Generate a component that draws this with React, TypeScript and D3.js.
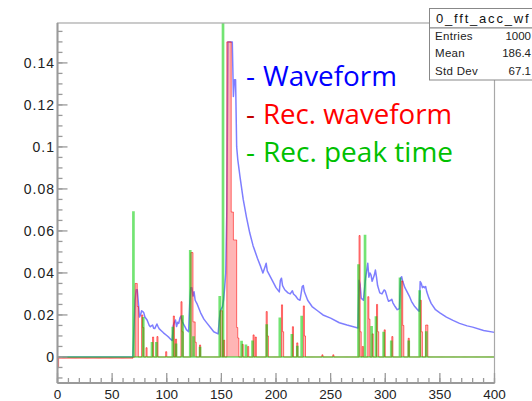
import React from 'react';
import * as d3 from 'd3';

// ---- Data ----
const xTicks = [0, 50, 100, 150, 200, 250, 300, 350, 400];
const yTicks = [0, 0.02, 0.04, 0.06, 0.08, 0.1, 0.12, 0.14];
const yTickLabels = ['0', '0.02', '0.04', '0.06', '0.08', '0.1', '0.12', '0.14'];

// Blue "Waveform" (bin position, value)
const blueX = [0, 69, 70, 71, 72, 73, 74, 75, 76, 77, 78, 79, 80, 82, 84, 85, 87, 88, 89, 91, 92, 93, 95, 97, 100, 102, 104, 105, 106, 107, 108, 109, 110, 111, 112, 113, 114, 116, 118, 120, 121, 122, 123, 124, 125, 126, 128, 131, 134, 137, 140, 143, 147, 148, 149, 151, 152, 153, 154, 155, 156, 160, 161, 162, 163, 164, 165, 167, 170, 173, 176, 179, 183, 186, 188, 190, 191, 192, 195, 198, 200, 203, 204, 205, 206, 208, 211, 213, 215, 216, 218, 220, 222, 224, 225, 226, 229, 233, 238, 243, 250, 258, 265, 270, 275, 276, 277, 278, 280, 282, 284, 285, 286, 287, 288, 290, 291, 292, 293, 295, 297, 299, 300, 302, 303, 305, 306, 307, 309, 311, 313, 314, 315, 316, 317, 318, 320, 322, 324, 327, 330, 331, 332, 333, 334, 335, 336, 337, 338, 340, 342, 346, 350, 356, 362, 368, 375, 380, 390, 400];
const blueY = [0, 0, 0.014, 0.027, 0.032, 0.032, 0.026, 0.019, 0.02, 0.022, 0.0216, 0.021, 0.019, 0.0176, 0.015, 0.0144, 0.0152, 0.0137, 0.0135, 0.0157, 0.0145, 0.0135, 0.0125, 0.0115, 0.0102, 0.0093, 0.0082, 0.0078, 0.015, 0.0165, 0.0176, 0.0145, 0.0165, 0.016, 0.0185, 0.0195, 0.017, 0.015, 0.013, 0.012, 0.025, 0.033, 0.033, 0.029, 0.031, 0.027, 0.025, 0.021, 0.018, 0.016, 0.014, 0.012, 0.011, 0.017, 0.022, 0.024, 0.027, 0.033, 0.04, 0.07, 0.15, 0.15, 0.124, 0.132, 0.132, 0.1, 0.094, 0.086, 0.075, 0.0665, 0.059, 0.053, 0.047, 0.043, 0.04, 0.043, 0.0446, 0.041, 0.038, 0.035, 0.033, 0.031, 0.0365, 0.0375, 0.034, 0.032, 0.0305, 0.03, 0.0315, 0.03, 0.029, 0.0275, 0.027, 0.0335, 0.034, 0.031, 0.027, 0.024, 0.022, 0.02, 0.0185, 0.0163, 0.0152, 0.0145, 0.0138, 0.0365, 0.0345, 0.028, 0.027, 0.0375, 0.0446, 0.038, 0.04, 0.039, 0.036, 0.039, 0.0414, 0.038, 0.034, 0.0305, 0.03, 0.0319, 0.0315, 0.028, 0.0265, 0.027, 0.0275, 0.0258, 0.024, 0.0225, 0.023, 0.0375, 0.0382, 0.036, 0.0345, 0.033, 0.031, 0.029, 0.0265, 0.024, 0.0222, 0.0218, 0.0359, 0.035, 0.033, 0.0335, 0.033, 0.0335, 0.031, 0.028, 0.0255, 0.0225, 0.021, 0.019, 0.0174, 0.016, 0.0148, 0.0142, 0.0126, 0.0117];

// Red "Rec. waveform": [first bin, last bin (exclusive), value]
const redSegments: [number, number, number][] = [
  [0, 1, -0.0052], [1, 69, -0.0006], [71, 73, 0.035], [73, 74, 0.024], [77, 78, 0.02], [78, 79, 0.014],
  [81, 82, 0.0044], [87, 88, 0.0095], [91, 92, 0.0097], [99, 100, 0.0025], [106, 107, 0.0195],
  [108, 109, 0.0085], [113, 114, 0.0263], [114, 115, 0.012], [122, 124, 0.0497], [124, 126, 0.0167],
  [126, 127, 0.007], [130, 131, 0.0057], [149, 151, 0.022], [152, 153, 0.008], [155, 159, 0.15],
  [159, 161, 0.069], [161, 164, 0.0557], [164, 165, 0.014], [165, 166, 0.009], [169, 170, 0.006],
  [174, 175, 0.005], [179, 180, 0.0105], [181, 182, 0.0095], [191, 192, 0.0216], [192, 193, 0.01],
  [205, 206, 0.0248], [206, 207, 0.012], [215, 216, 0.0144], [219, 220, 0.0067], [225, 226, 0.0243],
  [226, 227, 0.01], [242, 243, 0.001], [252, 253, 0.001], [276, 277, 0.0578], [277, 278, 0.012],
  [279, 280, 0.005], [284, 285, 0.0287], [285, 286, 0.018], [288, 289, 0.011], [292, 293, 0.025],
  [293, 294, 0.012], [299, 300, 0.0129], [306, 307, 0.0097], [315, 316, 0.0362], [316, 317, 0.015],
  [321, 322, 0.0089], [332, 333, 0.027], [333, 334, 0.012], [337, 339, 0.0152],
];

// Green "Rec. peak time": bins and values
const greenBins = [69, 78, 86, 90, 105, 108, 114, 121, 124, 130, 148, 151, 168, 172, 178, 191, 203, 214, 219, 223, 275, 281, 287, 291, 298, 305, 313, 321, 331, 337];
const greenVals = [0.069, 0.0186, 0.0067, 0.0067, 0.014, 0.006, 0.0195, 0.0505, 0.0095, 0.0045, 0.0287, 0.2, 0.0073, 0.0055, 0.0075, 0.0152, 0.0184, 0.0105, 0.005, 0.0192, 0.0438, 0.0578, 0.0144, 0.019, 0.0116, 0.0075, 0.0375, 0.0074, 0.0314, 0.0119];

const statsTitle = '0_fft_acc_wf';
const statsLabels = ['Entries', 'Mean', 'Std Dev'];
const statsValues = ['1000', '186.4', '67.1'];

const legendLabels = ['Waveform', 'Rec. waveform', 'Rec. peak time'];
const legendColors = ['#0000ff', '#ff0000', '#00c000'];
const dashColors = ['#0000ff', '#c00000', '#00c000'];

const NBINS = 400;

export default function App() {
  const W = 532, H = 401;
  const x = d3.scaleLinear().domain([0, 400]).range([57.5, 494.5]);
  const y = d3.scaleLinear().domain([-0.0124, 0.159]).range([383, 23]);
  const [x0, x1] = x.range();
  const [yb, yt] = y.range();

  // Build binned arrays
  const redVals = new Array(NBINS).fill(0);
  redSegments.forEach(([a, b, v]) => { for (let i = a; i < b; i++) redVals[i] = v; });
  const grnVals = new Array(NBINS).fill(0);
  greenBins.forEach((b, i) => { grnVals[b] = greenVals[i]; });

  const stepPts = (vals: number[]) => {
    const pts: [number, number][] = vals.map((v, i) => [i, v]);
    pts.push([NBINS, vals[NBINS - 1]]);
    return pts;
  };

  const redArea = d3.area<[number, number]>()
    .x(d => x(d[0])).y0(y(0)).y1(d => y(d[1])).curve(d3.curveStepAfter)(stepPts(redVals)) || '';
  const redLine = d3.line<[number, number]>()
    .x(d => x(d[0])).y(d => y(d[1])).curve(d3.curveStepAfter)(stepPts(redVals)) || '';
  const grnLine = d3.line<[number, number]>()
    .x(d => x(d[0])).y(d => y(d[1])).curve(d3.curveStepAfter)(stepPts(grnVals)) || '';
  const blueLine = d3.line<number>()
    .x((_, i) => x(blueX[i])).y(d => y(d))(blueY) || '';

  const yMinor = d3.range(-0.01, 0.1551, 0.005);
  const xMinor = d3.range(0, 401, 10);

  const axisFont = 'Liberation Sans, Arial, Helvetica, sans-serif';

  return (
    <svg width={W} height={H} style={{ position: 'absolute', left: 0, top: 0, background: '#fff' }}>
      <defs>
        <clipPath id="plotclip">
          <rect x={x0} y={yt} width={x1 - x0} height={yb - yt} />
        </clipPath>
      </defs>
      <rect x={0} y={0} width={W} height={H} fill="#fff" />

      {/* data */}
      <g clipPath="url(#plotclip)">
        <path d={blueLine} fill="none" stroke="rgba(40,40,255,0.6)" strokeWidth={1.5} strokeLinejoin="round" />
        <path d={redArea} fill="rgba(255,70,70,0.4)" stroke="none" />
        <path d={redLine} fill="none" stroke="rgba(255,0,0,0.55)" strokeWidth={1} />
        <path d={grnLine} fill="none" stroke="rgba(0,205,0,0.55)" strokeWidth={1.6} />
      </g>

      {/* frame */}
      <rect x={x0} y={yt} width={x1 - x0} height={yb - yt} fill="none" stroke="#a8a8a8" strokeWidth={1.2} />
      <line x1={x0} x2={x0} y1={yt} y2={yb} stroke="#9a9a9a" strokeWidth={2} />
      <line x1={x0} x2={x1} y1={yb} y2={yb} stroke="#9a9a9a" strokeWidth={2} />

      {/* y ticks */}
      {yMinor.map((v, i) => (
        <line key={'ym' + i} x1={x0} x2={x0 + 5} y1={y(v)} y2={y(v)} stroke="#9a9a9a" strokeWidth={1.3} />
      ))}
      {yTicks.map((v, i) => (
        <g key={'yt' + i}>
          <line x1={x0} x2={x0 + 10} y1={y(v)} y2={y(v)} stroke="#9a9a9a" strokeWidth={1.3} />
          <text x={55} y={y(v) + 5} textAnchor="end" fontFamily={axisFont} fontSize={14} letterSpacing={1} fill="#222">
            {yTickLabels[i]}
          </text>
        </g>
      ))}

      {/* x ticks */}
      {xMinor.map((v, i) => (
        <line key={'xm' + i} x1={x(v)} x2={x(v)} y1={yb} y2={yb - 5} stroke="#9a9a9a" strokeWidth={1.3} />
      ))}
      {xTicks.map((v, i) => (
        <g key={'xt' + i}>
          <line x1={x(v)} x2={x(v)} y1={yb} y2={yb - 10} stroke="#9a9a9a" strokeWidth={1.3} />
          <text x={x(v)} y={399} textAnchor="middle" fontFamily={axisFont} fontSize={13.5} fill="#222">
            {String(v)}
          </text>
        </g>
      ))}

      {/* stats box */}
      <rect x={429.5} y={8.5} width={110} height={19.5} fill="#fff" stroke="#888" strokeWidth={1} />
      <text x={436} y={23} fontFamily={axisFont} fontSize={13} letterSpacing={1.8} fill="#111">{statsTitle}</text>
      <rect x={429.5} y={28} width={110} height={52} fill="#fff" stroke="#888" strokeWidth={1} />
      {statsLabels.map((s, i) => (
        <text key={'sl' + i} x={435} y={39.5 + i * 17.8} fontFamily={axisFont} fontSize={11.5} letterSpacing={0.3} fill="#222">{s}</text>
      ))}
      {statsValues.map((s, i) => (
        <text key={'sv' + i} x={531} y={39.5 + i * 17.8} textAnchor="end" fontFamily={axisFont} fontSize={11.5} fill="#222">{s}</text>
      ))}

      {/* legend overlay */}
      {legendLabels.map((s, i) => (
        <g key={'lg' + i}>
          <text x={246} y={86 + i * 37.8} fontFamily="Open Sans, sans-serif" fontSize={28} fill={dashColors[i]}>-</text>
          <text x={263} y={86 + i * 37.8} fontFamily="Open Sans, sans-serif" fontSize={28} fill={legendColors[i]}
            textLength={[134, 189, 190][i]} lengthAdjust="spacingAndGlyphs">{s}</text>
        </g>
      ))}
    </svg>
  );
}
